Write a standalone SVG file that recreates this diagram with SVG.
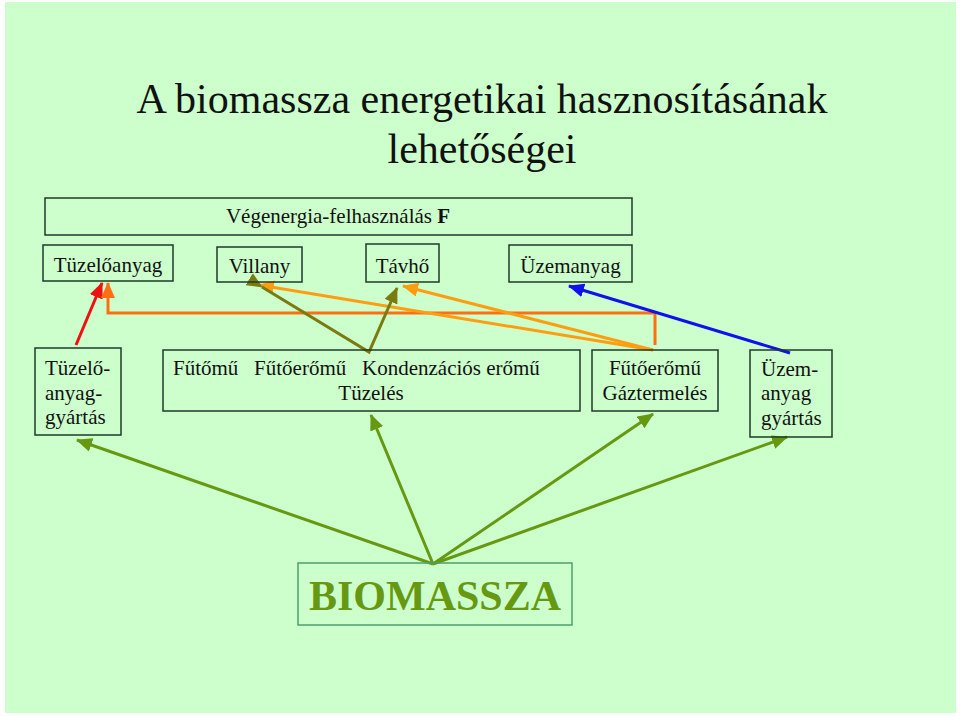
<svg xmlns="http://www.w3.org/2000/svg" width="960" height="716" viewBox="0 0 960 716">
<style>
.t{font-family:"Liberation Serif","Times New Roman",serif;fill:#111}
.box{fill:none;stroke:#1f3a28;stroke-width:1.5}
.ln{fill:none;stroke-width:3;stroke-linejoin:miter}
</style>
<defs>
<marker id="aRed" markerUnits="userSpaceOnUse" markerWidth="16" markerHeight="14" refX="15" refY="7" orient="auto"><path d="M0,0 L16,7 L0,14 z" fill="#ee1111"/></marker>
<marker id="aOr" markerUnits="userSpaceOnUse" markerWidth="16" markerHeight="14" refX="15" refY="7" orient="auto"><path d="M0,0 L16,7 L0,14 z" fill="#ff6f11"/></marker>
<marker id="aLo" markerUnits="userSpaceOnUse" markerWidth="16" markerHeight="14" refX="15" refY="7" orient="auto"><path d="M0,0 L16,7 L0,14 z" fill="#ff9d11"/></marker>
<marker id="aOl" markerUnits="userSpaceOnUse" markerWidth="16" markerHeight="14" refX="15" refY="7" orient="auto"><path d="M0,0 L16,7 L0,14 z" fill="#7a7a10"/></marker>
<marker id="aBl" markerUnits="userSpaceOnUse" markerWidth="16" markerHeight="14" refX="15" refY="7" orient="auto"><path d="M0,0 L16,7 L0,14 z" fill="#1111ee"/></marker>
<marker id="aGr" markerUnits="userSpaceOnUse" markerWidth="16" markerHeight="14" refX="15" refY="7" orient="auto"><path d="M0,0 L16,7 L0,14 z" fill="#669911"/></marker>
</defs>
<rect x="0" y="0" width="960" height="716" fill="#ffffff"/>
<rect x="5" y="2" width="951" height="711" fill="#ccffcc"/>
<g id="title">
<text class="t" x="482" y="113" font-size="42" text-anchor="middle">A biomassza energetikai hasznosításának</text>
<text class="t" x="482" y="163" font-size="42" text-anchor="middle">lehetőségei</text>
</g>
<g id="connectors">
<line class="ln" x1="76" y1="345" x2="102" y2="283" stroke="#ee1111" marker-end="url(#aRed)"/>
<polyline class="ln" points="655,345 655,313 108,313 108,283" stroke="#ff6f11" marker-end="url(#aOr)"/>
<line class="ln" x1="653" y1="350" x2="259" y2="285" stroke="#ff9d11" marker-end="url(#aLo)"/>
<line class="ln" x1="653" y1="350" x2="403" y2="286" stroke="#ff9d11" marker-end="url(#aLo)"/>
<polyline class="ln" points="262,287 369,352 397,288" stroke="#7a7a10" marker-start="url(#aOl)" marker-end="url(#aOl)"/>
<line class="ln" x1="790" y1="353" x2="569" y2="286" stroke="#1111ee" marker-end="url(#aBl)"/>
<line class="ln" x1="433" y1="564" x2="77" y2="440" stroke="#669911" marker-end="url(#aGr)"/>
<line class="ln" x1="433" y1="564" x2="371" y2="415" stroke="#669911" marker-end="url(#aGr)"/>
<line class="ln" x1="433" y1="564" x2="653" y2="414" stroke="#669911" marker-end="url(#aGr)"/>
<line class="ln" x1="433" y1="564" x2="787" y2="437" stroke="#669911" marker-end="url(#aGr)"/>
</g>
<g id="vegenergia">
<rect class="box" x="45" y="198" width="587" height="37"/>
<text class="t" x="338" y="223" font-size="21" text-anchor="middle">Végenergia-felhasználás <tspan font-weight="bold">F</tspan></text>
</g>
<g id="tuzeloanyag">
<rect class="box" x="43" y="245" width="130" height="36"/>
<text class="t" x="108" y="272" font-size="21" text-anchor="middle">Tüzelőanyag</text>
</g>
<g id="villany">
<rect class="box" x="217" y="247" width="85" height="35"/>
<text class="t" x="259.5" y="273" font-size="21" text-anchor="middle">Villany</text>
</g>
<g id="tavho">
<rect class="box" x="366" y="244" width="73" height="38"/>
<text class="t" x="402.5" y="273" font-size="21" text-anchor="middle">Távhő</text>
</g>
<g id="uzemanyag">
<rect class="box" x="509" y="245" width="123" height="37"/>
<text class="t" x="570.5" y="273" font-size="21" text-anchor="middle">Üzemanyag</text>
</g>
<g id="tuzeloanyag-gyartas">
<rect class="box" x="35" y="348" width="86" height="87"/>
<text class="t" x="45" y="375" font-size="21">Tüzelő-</text>
<text class="t" x="45" y="400" font-size="21">anyag-</text>
<text class="t" x="45" y="424" font-size="21">gyártás</text>
</g>
<g id="tuzeles">
<rect class="box" x="163" y="350" width="417" height="61"/>
<text class="t" x="173" y="375" font-size="21" xml:space="preserve">Fűtőmű   Fűtőerőmű   Kondenzációs erőmű</text>
<text class="t" x="371" y="400" font-size="21" text-anchor="middle">Tüzelés</text>
</g>
<g id="gaztermeles">
<rect class="box" x="592" y="350" width="126" height="61"/>
<text class="t" x="655" y="375" font-size="21" text-anchor="middle">Fűtőerőmű</text>
<text class="t" x="655" y="400" font-size="21" text-anchor="middle">Gáztermelés</text>
</g>
<g id="uzemanyag-gyartas">
<rect class="box" x="750" y="350" width="82" height="87"/>
<text class="t" x="761" y="376" font-size="21">Üzem-</text>
<text class="t" x="761" y="400" font-size="21">anyag</text>
<text class="t" x="761" y="425" font-size="21">gyártás</text>
</g>
<g id="biomassza">
<rect x="298" y="563" width="274" height="62" fill="none" stroke="#4f9f6f" stroke-width="1.5"/>
<text x="435" y="610" font-size="42" font-weight="bold" text-anchor="middle" font-family="'Liberation Serif','Times New Roman',serif" fill="#669911">BIOMASSZA</text>
</g>
</svg>
